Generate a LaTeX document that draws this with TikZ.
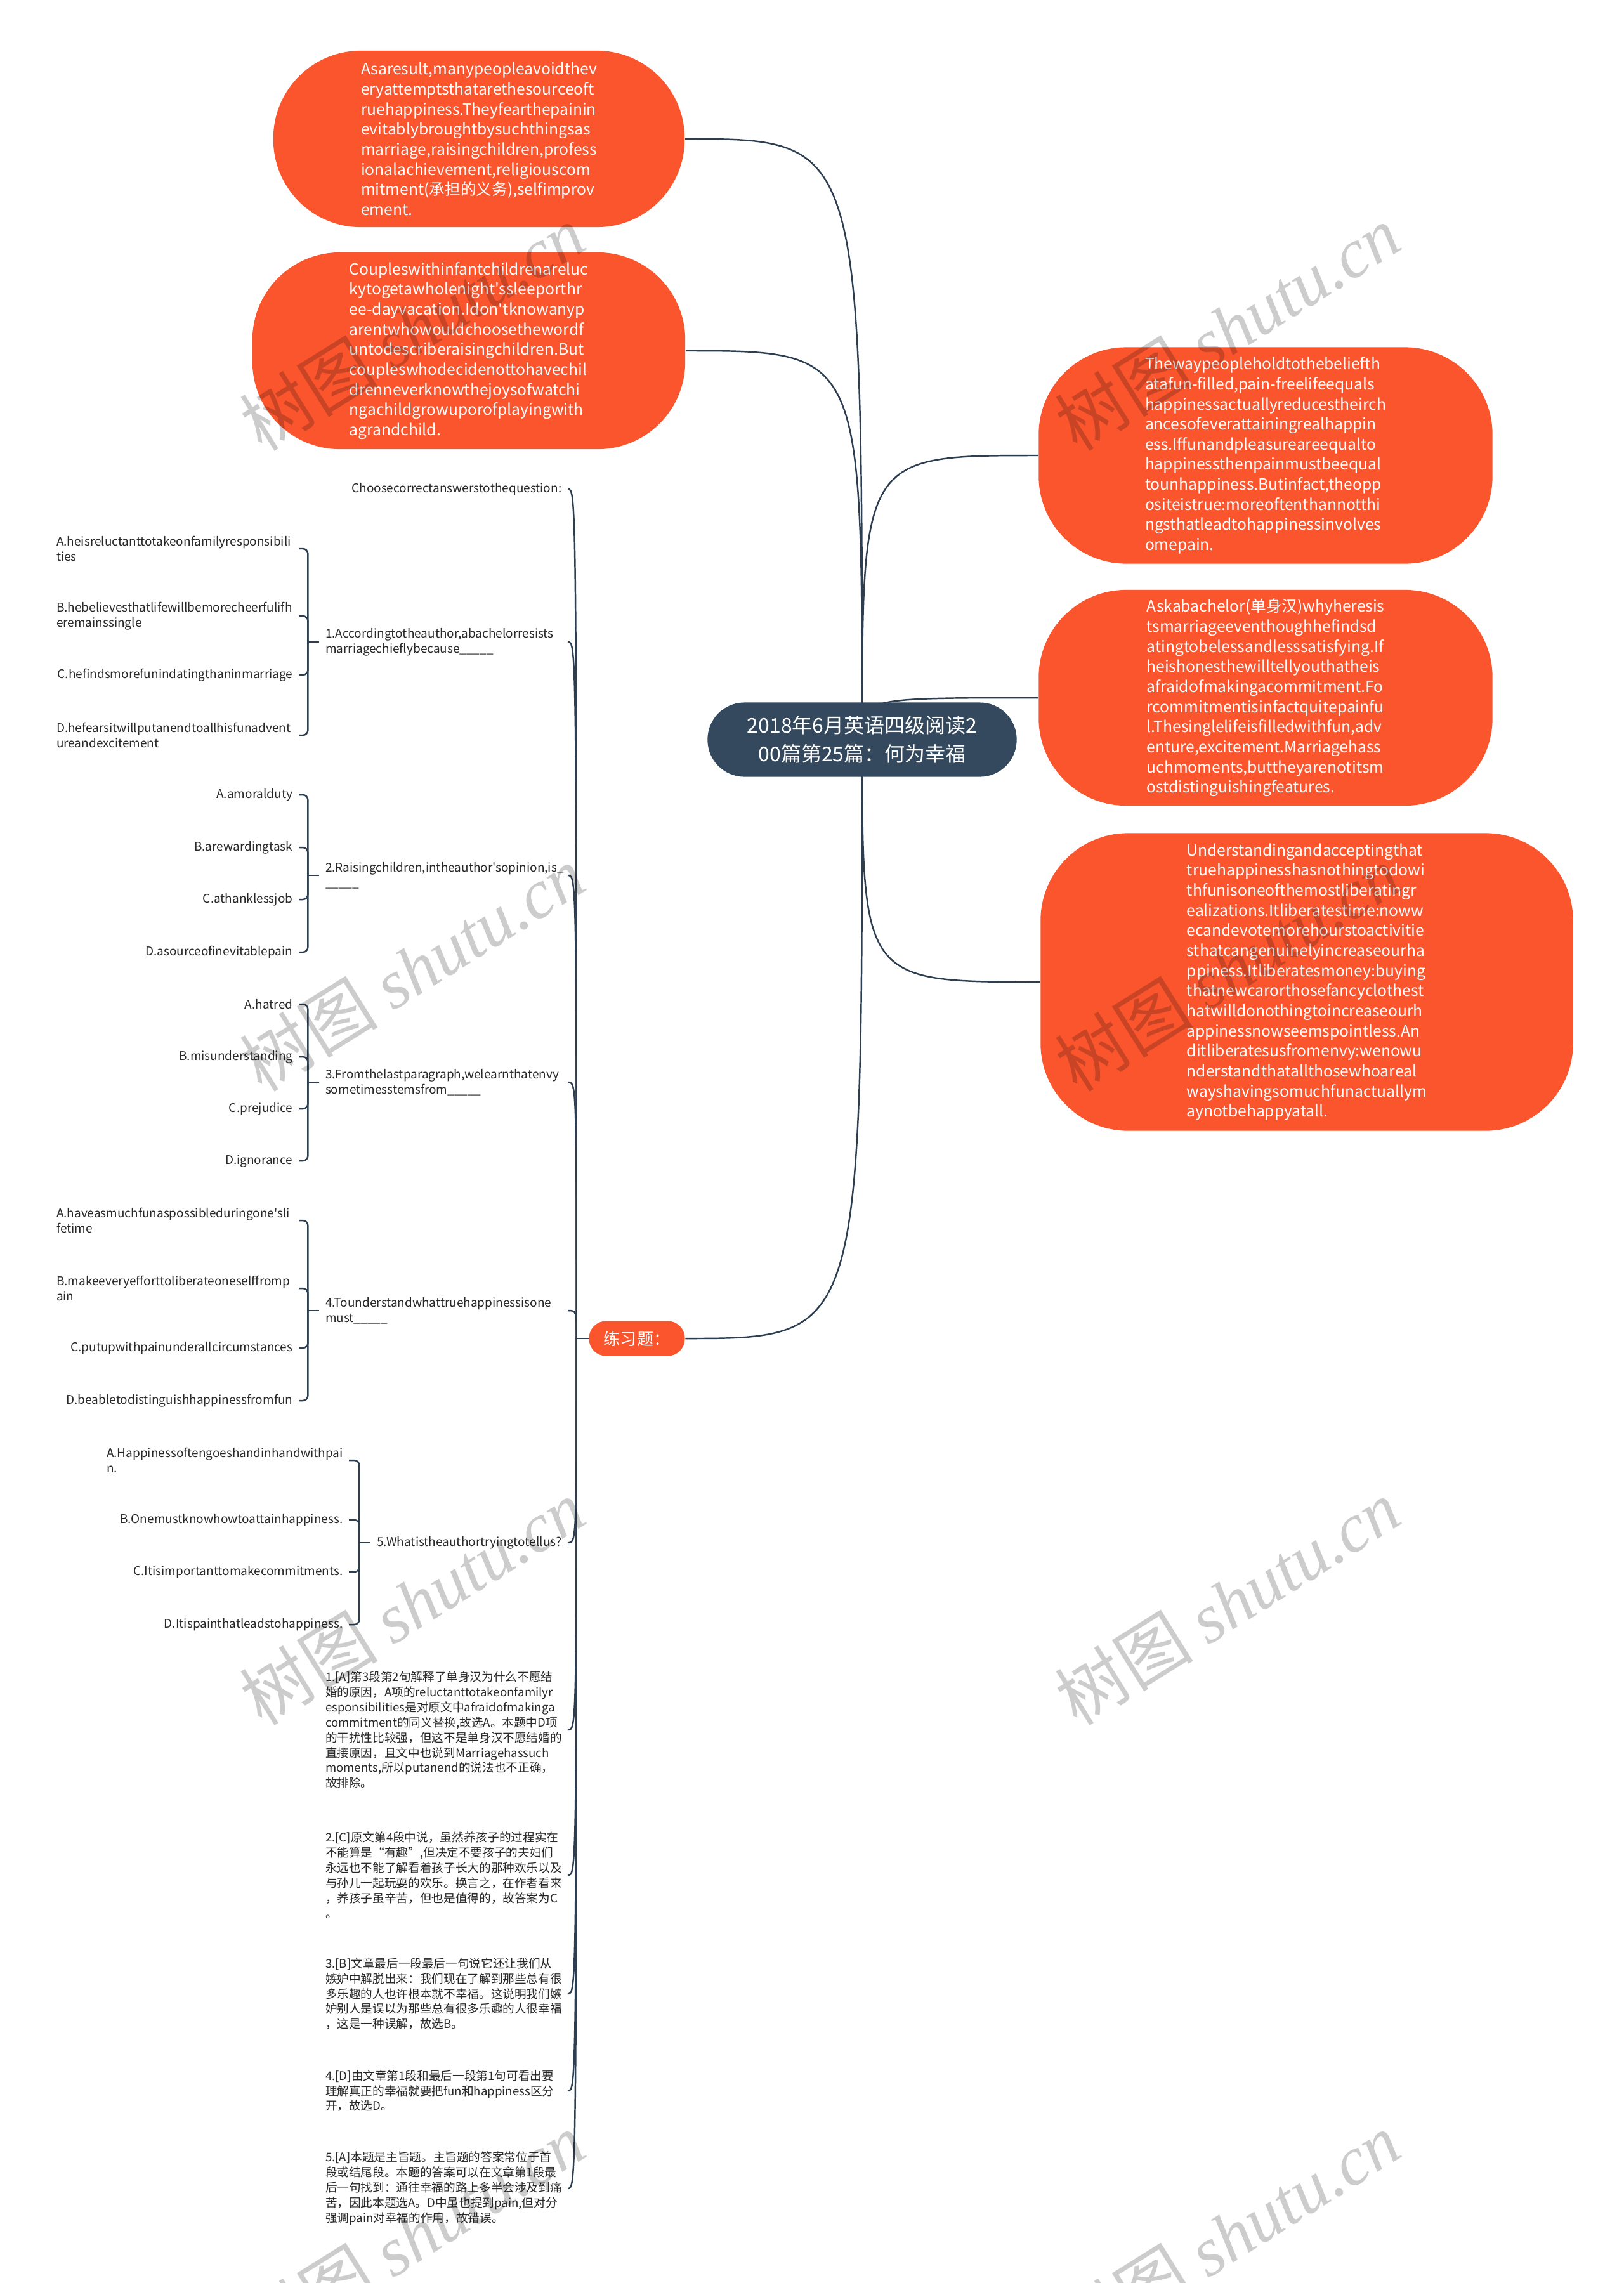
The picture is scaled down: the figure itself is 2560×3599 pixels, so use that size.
\documentclass[tikz,border=0pt]{standalone}
\usepackage{fontspec}
\setmainfont{Noto Sans CJK SC}[Ligatures=TeXOff]
\newfontfamily\wmlatin{Liberation Serif}
\usetikzlibrary{backgrounds}
\definecolor{bubbleorange}{RGB}{250,85,45}
\definecolor{rootslate}{RGB}{52,73,94}
\definecolor{linkslate}{RGB}{44,62,80}
\definecolor{textgray}{RGB}{40,40,40}
\hyphenpenalty=10000
\exhyphenpenalty=10000

\begin{document}
\begin{tikzpicture}[
    x=0.01cm, y=-0.01cm,
    rootbox/.style={rectangle,rounded corners=0.58cm,fill=rootslate,text=white,align=center,font=\fontsize{9.1}{12.8}\selectfont,minimum width=4.87cm,minimum height=1.17cm,inner sep=0pt},
    bubble/.style={rectangle,rounded corners=1.38cm,fill=bubbleorange,text=white,align=left,font=\fontsize{7}{9}\selectfont,inner sep=0pt},
    tagbox/.style={rectangle,rounded corners=0.27cm,fill=bubbleorange,text=white,font=\fontsize{7.4}{9}\selectfont,minimum width=1.51cm,minimum height=0.55cm,inner sep=0pt},
    optitem/.style={anchor=east,align=left,text=textgray,inner sep=0.09cm,font=\fontsize{5.4}{6.8}\selectfont},
    wrapitem/.style={optitem,text width=3.72cm},
    explain/.style={optitem,text width=3.72cm,font=\fontsize{5.3}{6.8}\selectfont},
    link/.style={draw=linkslate,line width=0.7pt},
    bracket/.style={link,rounded corners=0.08cm},
    wmark/.style={text=black,text opacity=0.2,rotate=32,font=\fontsize{31}{31}\selectfont}
]
\useasboundingbox (0,0) rectangle (2560,3599);

\node[rootbox] (root) at (1359,1166) {2018年6月英语四级阅读2\\00篇第25篇：何为幸福};

\node[bubble,minimum width=6.48cm,minimum height=2.78cm] (result) at (755,219) {Asaresult,manypeopleavoidthev\\eryattemptsthatarethesourceoft\\ruehappiness.Theyfearthepainin\\evitablybroughtbysuchthingsas\\marriage,raisingchildren,profess\\ionalachievement,religiouscom\\mitment(承担的义务),selfimprov\\ement.};
\node[bubble,minimum width=6.82cm,minimum height=3.10cm] (couples) at (739,553) {Coupleswithinfantchildrenareluc\\kytogetawholenight'ssleeporthr\\ee-dayvacation.Idon'tknowanyp\\arentwhowouldchoosethewordf\\untodescriberaisingchildren.But\\coupleswhodecidenottohavechil\\drenneverknowthejoysofwatchi\\ngachildgrowuporofplayingwith\\agrandchild.};
\node[bubble,minimum width=7.15cm,minimum height=3.41cm] (belief) at (1995,718) {Thewaypeopleholdtothebeliefth\\atafun-filled,pain-freelifeequals\\happinessactuallyreducestheirch\\ancesofeverattainingrealhappin\\ess.Iffunandpleasureareequalto\\happinessthenpainmustbeequal\\tounhappiness.Butinfact,theopp\\ositeistrue:moreoftenthannotthi\\ngsthatleadtohappinessinvolves\\omepain.};
\node[bubble,minimum width=7.15cm,minimum height=3.40cm] (bachelor) at (1995,1100) {Askabachelor(单身汉)whyheresis\\tsmarriageeventhoughhefindsd\\atingtobelessandlesssatisfying.If\\heishonesthewilltellyouthatheis\\afraidofmakingacommitment.Fo\\rcommitmentisinfactquitepainfu\\l.Thesinglelifeisfilledwithfun,adv\\enture,excitement.Marriagehass\\uchmoments,buttheyarenotitsm\\ostdistinguishingfeatures.};
\node[bubble,minimum width=8.39cm,minimum height=4.69cm] (accept) at (2060,1548) {Understandingandacceptingthat\\truehappinesshasnothingtodowi\\thfunisoneofthemostliberatingr\\ealizations.Itliberatestime:noww\\ecandevotemorehourstoactivitie\\sthatcangenuinelyincreaseourha\\ppiness.Itliberatesmoney:buying\\thatnewcarorthosefancyclothest\\hatwilldonothingtoincreaseourh\\appinessnowseemspointless.An\\ditliberatesusfromenvy:wenowu\\nderstandthatallthosewhoareal\\wayshavingsomuchfunactuallym\\aynotbehappyatall.};

\node[tagbox] (practice) at (1004,2110) {练习题：};

\node[optitem] (choose) at (895,771) {Choosecorrectanswerstothequestion:};

\node[wrapitem] (q1) at (895,1012) {1.Accordingtotheauthor,abachelorresists\\marriagechieflybecause\_\_\_\_\_};
\node[wrapitem] (q1a) at (471,865) {A.heisreluctanttotakeonfamilyresponsibili\\ties};
\node[wrapitem] (q1b) at (471,971) {B.hebelievesthatlifewillbemorecheerfulifh\\eremainssingle};
\node[optitem] (q1c) at (471,1064) {C.hefindsmorefunindatingthaninmarriage};
\node[wrapitem] (q1d) at (471,1159) {D.hefearsitwillputanendtoallhisfunadvent\\ureandexcitement};

\node[wrapitem] (q2) at (895,1380) {2.Raisingchildren,intheauthor'sopinion,is\_\\\_\_\_\_\_};
\node[optitem] (q2a) at (471,1253) {A.amoralduty};
\node[optitem] (q2b) at (471,1336) {B.arewardingtask};
\node[optitem] (q2c) at (471,1418) {C.athanklessjob};
\node[optitem] (q2d) at (471,1501) {D.asourceofinevitablepain};

\node[wrapitem] (q3) at (895,1706) {3.Fromthelastparagraph,welearnthatenvy\\sometimesstemsfrom\_\_\_\_\_};
\node[optitem] (q3a) at (471,1583) {A.hatred};
\node[optitem] (q3b) at (471,1666) {B.misunderstanding};
\node[optitem] (q3c) at (471,1748) {C.prejudice};
\node[optitem] (q3d) at (471,1830) {D.ignorance};

\node[wrapitem] (q4) at (895,2066) {4.Tounderstandwhattruehappinessisone\\must\_\_\_\_\_};
\node[wrapitem] (q4a) at (471,1924) {A.haveasmuchfunaspossibleduringone'sli\\fetime};
\node[wrapitem] (q4b) at (471,2031) {B.makeeveryefforttoliberateoneselffromp\\ain};
\node[optitem] (q4c) at (471,2125) {C.putupwithpainunderallcircumstances};
\node[optitem] (q4d) at (471,2208) {D.beabletodistinguishhappinessfromfun};

\node[optitem] (q5) at (895,2432) {5.Whatistheauthortryingtotellus?};
\node[wrapitem] (q5a) at (550,2302) {A.Happinessoftengoeshandinhandwithpai\\n.};
\node[optitem] (q5b) at (550,2396) {B.Onemustknowhowtoattainhappiness.};
\node[optitem] (q5c) at (550,2478) {C.Itisimportanttomakecommitments.};
\node[optitem] (q5d) at (550,2561) {D.Itispainthatleadstohappiness.};

\node[explain] (e1) at (895,2727) {1.[A]第3段第2句解释了单身汉为什么不愿结\\婚的原因，A项的reluctanttotakeonfamilyr\\esponsibilities是对原文中afraidofmakinga\\commitment的同义替换,故选A。本题中D项\\的干扰性比较强，但这不是单身汉不愿结婚的\\直接原因，且文中也说到Marriagehassuch\\moments,所以putanend的说法也不正确，\\故排除。};
\node[explain] (e2) at (895,2956) {2.[C]原文第4段中说，虽然养孩子的过程实在\\不能算是“有趣”,但决定不要孩子的夫妇们\\永远也不能了解看着孩子长大的那种欢乐以及\\与孙儿一起玩耍的欢乐。换言之，在作者看来\\，养孩子虽辛苦，但也是值得的，故答案为C\\。};
\node[explain] (e3) at (895,3143) {3.[B]文章最后一段最后一句说它还让我们从\\嫉妒中解脱出来：我们现在了解到那些总有很\\多乐趣的人也许根本就不幸福。这说明我们嫉\\妒别人是误以为那些总有很多乐趣的人很幸福\\，这是一种误解，故选B。};
\node[explain] (e4) at (895,3296) {4.[D]由文章第1段和最后一段第1句可看出要\\理解真正的幸福就要把fun和happiness区分\\开，故选D。};
\node[explain] (e5) at (895,3450) {5.[A]本题是主旨题。主旨题的答案常位于首\\段或结尾段。本题的答案可以在文章第1段最\\后一句找到：通往幸福的路上多半会涉及到痛\\苦，因此本题选A。D中虽也提到pain,但对分\\强调pain对幸福的作用，故错误。};

\begin{scope}[on background layer]
\fill[white] (0,0) rectangle (2560,3599);
\foreach \b in {result,couples,practice}
    \draw[link] (root.center) .. controls (root.center |- \b.east) .. (\b.east);
\foreach \b in {belief,bachelor,accept}
    \draw[link] (root.center) .. controls (root.center |- \b.west) .. (\b.west);
\coordinate (pj) at ([xshift=-0.19cm]practice.west);
\draw[link] (practice.west) -- (pj);
\foreach \c in {choose,q1,q2,q3,q4,q5,e1,e2,e3,e4,e5}
    \draw[link] (pj) .. controls (pj |- \c.east) .. (\c.east);
\foreach \q in {q1,q2,q3,q4,q5} {
    \coordinate (\q-j) at ([xshift=-0.18cm]\q.west);
    \draw[link] (\q.west) -- (\q-j);
    \foreach \o in {a,b,c,d}
        \draw[bracket] (\q-j) |- (\q\o.east);
}
\end{scope}

\foreach \wx/\wy [count=\w] in {650/517,1935/517,650/1527,1935/1527,650/2526,1935/2526,650/3524,1935/3524}
    \node[wmark] (wm\w) at (\wx,\wy) {树图 {\wmlatin\itshape shutu.cn}};

\end{tikzpicture}
\end{document}
